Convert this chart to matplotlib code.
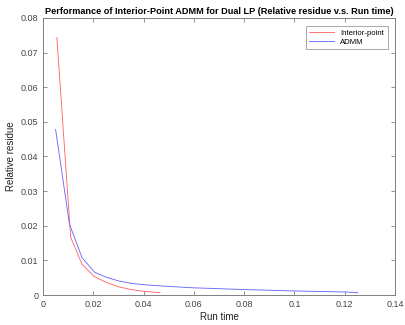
import matplotlib
matplotlib.use("Agg")
import matplotlib.pyplot as plt

plt.rcParams['font.family'] = ['Liberation Sans', 'DejaVu Sans']

# Interior-point curve
ip_time = [0.0055, 0.011, 0.0155, 0.0205, 0.025, 0.030, 0.035, 0.040, 0.0465]
ip_res = [0.0743, 0.0167, 0.0089, 0.0053, 0.0037, 0.0024, 0.0016, 0.0011, 0.0007]

# ADMM curve
admm_time = [0.005, 0.0105, 0.0155, 0.0205, 0.025, 0.030, 0.035, 0.040, 0.050, 0.060, 0.080, 0.100, 0.120, 0.1252]
admm_res = [0.0478, 0.0205, 0.0108, 0.0066, 0.0052, 0.0041, 0.0034, 0.0030, 0.0025, 0.0021, 0.0016, 0.0012, 0.0009, 0.0007]

fig = plt.figure(figsize=(4.06, 3.25), dpi=100)
ax = fig.add_axes([0.106, 0.092, 0.867, 0.853])

ax.plot(ip_time, ip_res, color='#ff6a6a', lw=0.65, label='Interior-point')
ax.plot(admm_time, admm_res, color='#6a6aff', lw=0.65, label='ADMM')

ax.set_xlim(0, 0.14)
ax.set_ylim(0, 0.08)
ax.set_xticks([0, 0.02, 0.04, 0.06, 0.08, 0.1, 0.12, 0.14])
ax.set_xticklabels(['0', '0.02', '0.04', '0.06', '0.08', '0.1', '0.12', '0.14'])
ax.set_yticks([0, 0.01, 0.02, 0.03, 0.04, 0.05, 0.06, 0.07, 0.08])
ax.set_yticklabels(['0', '0.01', '0.02', '0.03', '0.04', '0.05', '0.06', '0.07', '0.08'])

for sp in ax.spines.values():
    sp.set_color('#808080')
    sp.set_linewidth(0.7)
ax.tick_params(direction='in', length=3, width=0.6, color='#808080',
               labelsize=6.5, labelcolor='#444444', top=True, right=True)

ax.set_xlabel('Run time', fontsize=7, color='#222222', labelpad=2)
ax.set_ylabel('Relative residue', fontsize=7, color='#222222', labelpad=3)
ax.set_title('Performance of Interior-Point ADMM for Dual LP (Relative residue v.s. Run time)',
             fontsize=6.6, fontweight='bold', pad=3)

leg = ax.legend(loc='upper right', fontsize=5.6, frameon=True, fancybox=False,
                edgecolor='#808080', handlelength=3.2, borderpad=0.45,
                labelspacing=0.2, bbox_to_anchor=(0.99, 0.985))
leg.get_frame().set_linewidth(0.6)

fig.savefig('out.png', dpi=100)
